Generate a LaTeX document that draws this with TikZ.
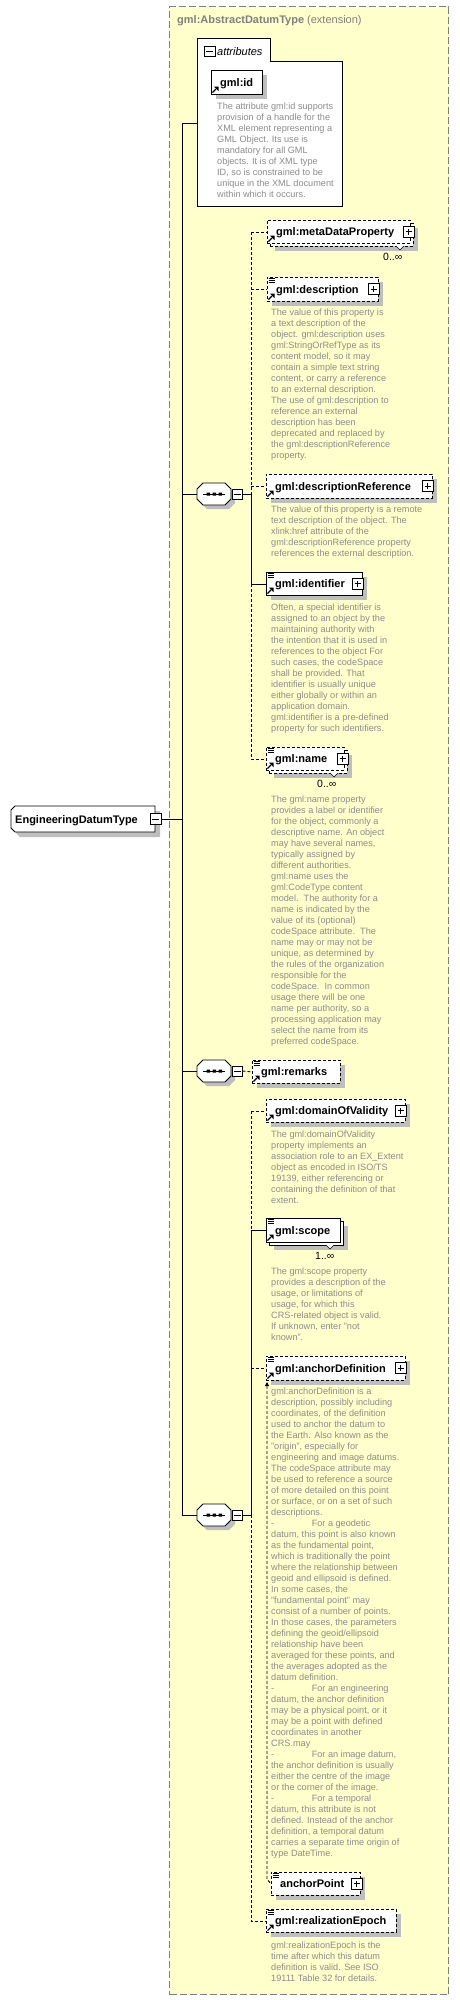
\documentclass[tikz,border=0pt]{standalone}
\usepackage{fontspec}
\setmainfont{Liberation Sans}
\usetikzlibrary{arrows.meta}
\definecolor{bgyellow}{RGB}{255,255,204}
\definecolor{framegray}{RGB}{128,128,128}
\definecolor{desccol}{RGB}{140,140,140}
\definecolor{shadowc}{RGB}{190,190,190}
\definecolor{titlegray}{RGB}{128,128,128}
\tikzset{
 conn/.style={line width=0.9pt, draw=black},
 dconn/.style={conn, dash pattern=on 3pt off 2pt},
 ebox/.style={draw=black, line width=0.9pt, fill=white, rectangle, inner sep=0pt, anchor=north west},
 obox/.style={ebox, dash pattern=on 3pt off 2pt},
 ename/.style={font=\fontsize{11}{13}\selectfont\bfseries, anchor=base west, inner sep=0pt},
 desc/.style={font=\fontsize{9.15}{11}\selectfont, text=desccol, align=left, anchor=north west, inner sep=0pt},
 mult/.style={font=\fontsize{10.5}{12}\selectfont, anchor=west, inner sep=0pt},
 pmbox/.style={draw=black, fill=white, line width=1pt, rectangle, inner sep=0pt, minimum width=11pt, minimum height=11pt},
}
\newcommand\xelem[7]{%
 \fill[shadowc] (#2+5,#3+5) rectangle ++(#4,#5);
 \node[#6, minimum width=#4, minimum height=#5] (#1) at (#2,#3) {};
 \node[ename] (#1-t) at (#2+9,#3+#5/2+4) {#7};}
\newcommand\xstack[7]{%
 \fill[shadowc] (#2+8,#3+8) rectangle ++(#4,#5);
 \node[#6, minimum width=#4, minimum height=#5] (#1-b) at (#2+3,#3+3) {};
 \node[#6, minimum width=#4, minimum height=#5] (#1) at (#2,#3) {};
 \node[ename] (#1-t) at (#2+9,#3+#5/2+4) {#7};
 \draw[fill=white, line width=0.6pt] (#2+#4-14,#3+#5+3) -- (#2+#4-10,#3+#5+7) -- (#2+#4-6,#3+#5+3);}
\newcommand\xplus[2]{%
 \draw[line width=1pt, fill=white] (#1-10,#2-5.5) rectangle (#1+1,#2+5.5);
 \draw[line width=1pt] (#1-7.5,#2) -- (#1-1.5,#2) (#1-4.5,#2-3) -- (#1-4.5,#2+3);}
\newcommand\xref[2]{%
 \draw[line width=1.1pt] (#1+1.5,#2-1.5) -- (#1+5,#2-5);
 \fill (#1+7.5,#2-7.5) -- (#1+3,#2-7.5) -- (#1+7.5,#2-3) -- cycle;}
\newcommand\xdoc[2]{%
 \draw[line width=0.7pt] (#1+1.5,#2+1) -- ++(6,0) (#1+1.5,#2+3) -- ++(6,0) (#1+1.5,#2+5) -- ++(6,0);}
\newcommand\xseq[2]{%
 \begin{scope}[shift={(197,#2)}]
 \fill[shadowc] (4,-1) -- (10,-7) -- (32,-7) -- (38,-1) -- (38,9) -- (32,15) -- (10,15) -- (4,9) -- cycle;
 \draw[line width=0.9pt, fill=white] (0,-5) -- (6,-11) -- (28,-11) -- (34,-5) -- (34,5) -- (28,11) -- (6,11) -- (0,5) -- cycle;
 \draw[line width=1pt] (6,0) -- (28,0);
 \fill (9.5,-1.5) rectangle ++(3.5,3) (15.5,-1.5) rectangle ++(3.5,3) (21.5,-1.5) rectangle ++(3.5,3);
 \end{scope}
 \node[inner sep=0pt, minimum width=34pt, minimum height=22pt] (#1) at (214,#2) {};
 \node[pmbox, minimum width=10pt, minimum height=10pt] (#1m) at (237,#2) {};
 \draw[line width=1pt] (233.5,#2) -- (240.5,#2);}
\begin{document}
\begin{tikzpicture}[x=1pt,y=-1pt]
\useasboundingbox (0,0) rectangle (459,2000);
% extension frame
\node[draw=framegray, fill=bgyellow, line width=1.1pt, dash pattern=on 7pt off 3pt, rectangle, inner sep=0pt, anchor=north west, minimum width=279pt, minimum height=1988pt] (ext) at (169,6) {};
\node[anchor=base west, inner sep=0pt, text=titlegray, font=\fontsize{11}{13}\selectfont] (title) at (177,23) {\textbf{gml:AbstractDatumType} (extension)};
% attributes
\draw[line width=0.9pt, fill=white] (197,206) -- (197,38) -- (270,38) -- (270,61) -- (342,61) -- (342,206) -- cycle;
\node[pmbox, minimum width=11pt, minimum height=10pt] (attrm) at (209.5,51.5) {};
\draw[line width=1pt] (206,51.5) -- (213,51.5);
\node[anchor=base west, inner sep=0pt, font=\fontsize{11}{13}\selectfont\itshape] (attrt) at (217,55) {attributes};
\coordinate (attrW) at (197,123);
\xelem{gid}{211}{70}{51}{24}{ebox}{gml:id}
\xref{211}{94}
\node[desc] (gid-d) at (217,103) {The attribute gml:id supports\\provision of a handle for the\\XML element representing a\\GML Object. Its use is\\mandatory for all GML\\objects. It is of XML type\\ID, so is constrained to be\\unique in the XML document\\within which it occurs.};
% root
\fill[shadowc] (20,811) -- (160,811) -- (160,837) -- (20,837) -- (16,833) -- (16,815) -- cycle;
\draw[line width=0.9pt, fill=white] (15,806) -- (155,806) -- (155,832) -- (15,832) -- (11,828) -- (11,810) -- cycle;
\node[ename] (edt) at (15,823) {EngineeringDatumType};
\node[pmbox] (edtm) at (155.5,819) {};
\draw[line width=1pt] (152,819) -- (159,819);
% sequences
\xseq{seqa}{494}
\xseq{seqb}{1071}
\xseq{seqc}{1515}
% elements group 1
\xstack{meta}{267}{220}{143}{23}{obox}{gml:metaDataProperty}
\xref{267}{243}
\xplus{413}{231.5}
\node[mult] (meta-m) at (383,257) {0..∞};
\xelem{desc}{267}{277}{111}{24}{obox}{gml:description}
\xdoc{267}{277}\xref{267}{301}\xplus{378}{289}
\node[desc] (desc-d) at (271,309) {The value of this property is\\a text description of the\\object. gml:description uses\\gml:StringOrRefType as its\\content model, so it may\\contain a simple text string\\content, or carry a reference\\to an external description.\\The use of gml:description to\\reference an external\\description has been\\deprecated and replaced by\\the gml:descriptionReference\\property.};
\xelem{dref}{266}{474}{166}{24}{obox}{gml:descriptionReference}
\xref{266}{498}\xplus{432}{486}
\node[desc] (dref-d) at (271,505.5) {The value of this property is a remote\\text description of the object. The\\xlink:href attribute of the\\gml:descriptionReference property\\references the external description.};
\xelem{ident}{266}{572}{96}{23}{ebox}{gml:identifier}
\xdoc{266}{572}\xref{266}{595}\xplus{362}{583.5}
\node[desc] (ident-d) at (271,604) {Often, a special identifier is\\assigned to an object by the\\maintaining authority with\\the intention that it is used in\\references to the object For\\such cases, the codeSpace\\shall be provided. That\\identifier is usually unique\\either globally or within an\\application domain.\\gml:identifier is a pre-defined\\property for such identifiers.};
\xstack{name}{266}{747}{78}{23}{obox}{gml:name}
\xdoc{266}{747}\xref{266}{770}\xplus{347}{758.5}
\node[mult] (name-m) at (317,784) {0..∞};
\node[desc] (name-d) at (271,795.5) {The gml:name property\\provides a label or identifier\\for the object, commonly a\\descriptive name. An object\\may have several names,\\typically assigned by\\different authorities.\\gml:name uses the\\gml:CodeType content\\model.\ \ The authority for a\\name is indicated by the\\value of its (optional)\\codeSpace attribute.\ \ The\\name may or may not be\\unique, as determined by\\the rules of the organization\\responsible for the\\codeSpace.\ \ In common\\usage there will be one\\name per authority, so a\\processing application may\\select the name from its\\preferred codeSpace.};
% group 2
\xelem{rem}{252}{1060}{88}{23}{obox}{gml:remarks}
\xdoc{252}{1060}\xref{252}{1083}
% group 3
\xelem{dov}{266}{1099}{139}{23}{obox}{gml:domainOfValidity}
\xref{266}{1122}\xplus{405}{1110.5}
\node[desc] (dov-d) at (271,1130.5) {The gml:domainOfValidity\\property implements an\\association role to an EX\_Extent\\object as encoded in ISO/TS\\19139, either referencing or\\containing the definition of that\\extent.};
\xstack{scope}{266}{1218}{74}{24}{ebox}{gml:scope}
\xdoc{266}{1218}\xref{266}{1242}
\node[mult] (scope-m) at (315,1256) {1..∞};
\node[desc] (scope-d) at (271,1268) {The gml:scope property\\provides a description of the\\usage, or limitations of\\usage, for which this\\CRS-related object is valid.\\If unknown, enter "not\\known".};
\xelem{anch}{266}{1356}{139}{24}{obox}{gml:anchorDefinition}
\xdoc{266}{1356}\xref{266}{1380}\xplus{405}{1368}
\node[desc] (anch-d) at (271,1388) {gml:anchorDefinition is a\\description, possibly including\\coordinates, of the definition\\used to anchor the datum to\\the Earth. Also known as the\\"origin", especially for\\engineering and image datums.\\The codeSpace attribute may\\be used to reference a source\\of more detailed on this point\\or surface, or on a set of such\\descriptions.\\-\hspace{37.5pt}For a geodetic\\datum, this point is also known\\as the fundamental point,\\which is traditionally the point\\where the relationship between\\geoid and ellipsoid is defined.\\In some cases, the\\"fundamental point" may\\consist of a number of points.\\In those cases, the parameters\\defining the geoid/ellipsoid\\relationship have been\\averaged for these points, and\\the averages adopted as the\\datum definition.\\-\hspace{37.5pt}For an engineering\\datum, the anchor definition\\may be a physical point, or it\\may be a point with defined\\coordinates in another\\CRS.may\\-\hspace{37.5pt}For an image datum,\\the anchor definition is usually\\either the centre of the image\\or the corner of the image.\\-\hspace{37.5pt}For a temporal\\datum, this attribute is not\\defined. Instead of the anchor\\definition, a temporal datum\\carries a separate time origin of\\type DateTime.};
\xelem{apt}{271}{1872}{89}{23}{obox}{anchorPoint}
\xdoc{271}{1872}\xplus{361}{1883.5}
\xelem{real}{266}{1909}{130}{23}{obox}{gml:realizationEpoch}
\xdoc{266}{1909}\xref{266}{1932}
\node[desc] (real-d) at (271,1941.5) {gml:realizationEpoch is the\\time after which this datum\\definition is valid. See ISO\\19111 Table 32 for details.};
% connectors
\coordinate (b0) at (182,123);
\coordinate (b1) at (251,0);
\draw[conn] (attrW) -- (b0) -- (b0 |- seqc.west) -- (seqc.west);
\draw[conn] (b0 |- seqa.west) -- (seqa.west);
\draw[conn] (b0 |- seqb.west) -- (seqb.west);
\draw[conn] (edtm.east) -- (b0 |- edtm.east);
\draw[dconn] (b1 |- meta.west) -- (meta.west);
\draw[dconn] (b1 |- desc.west) -- (desc.west);
\draw[dconn] (b1 |- dref.west) -- (dref.west);
\draw[conn] (b1 |- ident.west) -- (ident.west);
\draw[dconn] (b1 |- name.west) -- (name.west);
\draw[dconn] (b1 |- meta.west) -- (b1 |- seqam.east);
\draw[conn] (seqam.east) -- (b1 |- seqam.east) -- (b1 |- ident.west);
\draw[dconn] (b1 |- ident.west) -- (b1 |- name.west);
\draw[dconn] (seqbm.east) -- (rem.west);
\draw[dconn] (b1 |- dov.west) -- (dov.west);
\draw[dconn] (b1 |- dov.west) -- (b1 |- scope.west);
\draw[conn] (b1 |- scope.west) -- (scope.west);
\draw[conn] (b1 |- scope.west) -- (b1 |- seqcm.east) -- (seqcm.east);
\draw[dconn] (b1 |- anch.west) -- (anch.west);
\draw[dconn] (b1 |- seqcm.east) -- (b1 |- real.west) -- (real.west);
\coordinate (subtop) at (267,1382);
\coordinate (subbot) at (267,1879);
\draw[dconn, {Triangle[length=4pt,width=4pt]}-] (subtop) -- (subbot) -- (apt.west);
\end{tikzpicture}
\end{document}
